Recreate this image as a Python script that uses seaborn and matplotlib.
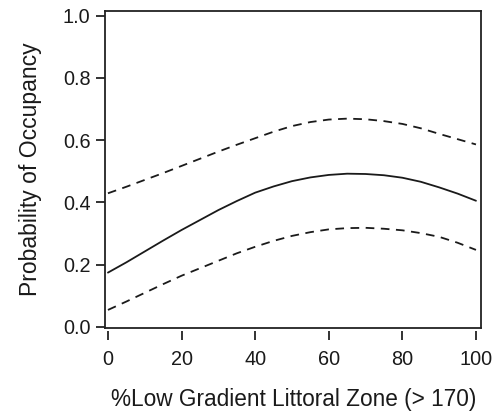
import matplotlib
matplotlib.use("Agg")
import matplotlib.pyplot as plt
import seaborn as sns
import pandas as pd

# %Low gradient littoral zone (> 170)
pct_low_gradient = [0, 5, 10, 15, 20, 25, 30, 35, 40, 45, 50,
                    55, 60, 65, 70, 75, 80, 85, 90, 95, 100]
# Predicted probability of occupancy
prob_fit = [0.174, 0.207, 0.242, 0.277, 0.311, 0.343, 0.375, 0.404, 0.431, 0.451, 0.468,
            0.480, 0.488, 0.492, 0.491, 0.487, 0.479, 0.466, 0.448, 0.428, 0.405]
# Upper confidence limit
prob_upper = [0.429, 0.450, 0.472, 0.494, 0.517, 0.540, 0.563, 0.585, 0.606, 0.627, 0.645,
              0.658, 0.666, 0.669, 0.667, 0.661, 0.652, 0.638, 0.620, 0.603, 0.586]
# Lower confidence limit
prob_lower = [0.054, 0.081, 0.109, 0.137, 0.164, 0.188, 0.212, 0.236, 0.257, 0.276, 0.292,
              0.304, 0.313, 0.317, 0.318, 0.315, 0.310, 0.301, 0.289, 0.270, 0.247]

x_ticks = [0, 20, 40, 60, 80, 100]
y_ticks = [0.0, 0.2, 0.4, 0.6, 0.8, 1.0]

df = pd.DataFrame({"x": pct_low_gradient, "fit": prob_fit,
                   "upper": prob_upper, "lower": prob_lower})

sns.set_style("white")
plt.rcParams["font.family"] = ["Liberation Sans", "DejaVu Sans"]

fig = plt.figure(figsize=(4.97, 4.11), dpi=100)
ax = fig.add_axes([0.2113, 0.202, 0.9688 - 0.2113, 0.974 - 0.202])

line_col = "#1a1a1a"
sns.lineplot(data=df, x="x", y="fit", ax=ax, color=line_col, linewidth=1.3)
sns.lineplot(data=df, x="x", y="upper", ax=ax, color=line_col, linewidth=1.3,
             linestyle=(0, (4.8, 3.6)))
sns.lineplot(data=df, x="x", y="lower", ax=ax, color=line_col, linewidth=1.3,
             linestyle=(0, (4.8, 3.6)))

ax.set_xlim(-0.8, 101.5)
ax.set_ylim(-0.004, 1.016)
ax.set_xticks(x_ticks)
ax.set_yticks(y_ticks)
ax.set_xticklabels([str(v) for v in x_ticks])
ax.set_yticklabels([f"{v:.1f}" for v in y_ticks])

spine_col = "#222222"
for s in ["left", "right", "top"]:
    ax.spines[s].set_visible(True)
    ax.spines[s].set_color(spine_col)
    ax.spines[s].set_linewidth(1.3)
# offset x-axis ticks below the box (R style)
ax.spines["bottom"].set_position(("outward", 2))
ax.spines["bottom"].set_color("none")
ax.plot([0, 1], [0, 0], transform=ax.transAxes, color=spine_col,
        linewidth=1.3, clip_on=False, solid_capstyle="projecting")

ax.tick_params(axis="both", which="major", direction="out", length=6.5,
               width=1.3, color=spine_col, labelsize=14.3, labelcolor="#1a1a1a",
               bottom=True, left=True)
ax.tick_params(axis="x", pad=7)
ax.tick_params(axis="y", pad=4)

ax.set_xlabel("%Low Gradient Littoral Zone (> 170)", fontsize=16.3,
              color="#1a1a1a", labelpad=14)
ax.set_ylabel("Probability of Occupancy", fontsize=16.5, color="#1a1a1a",
              labelpad=15)

fig.savefig("out.png", dpi=100)
